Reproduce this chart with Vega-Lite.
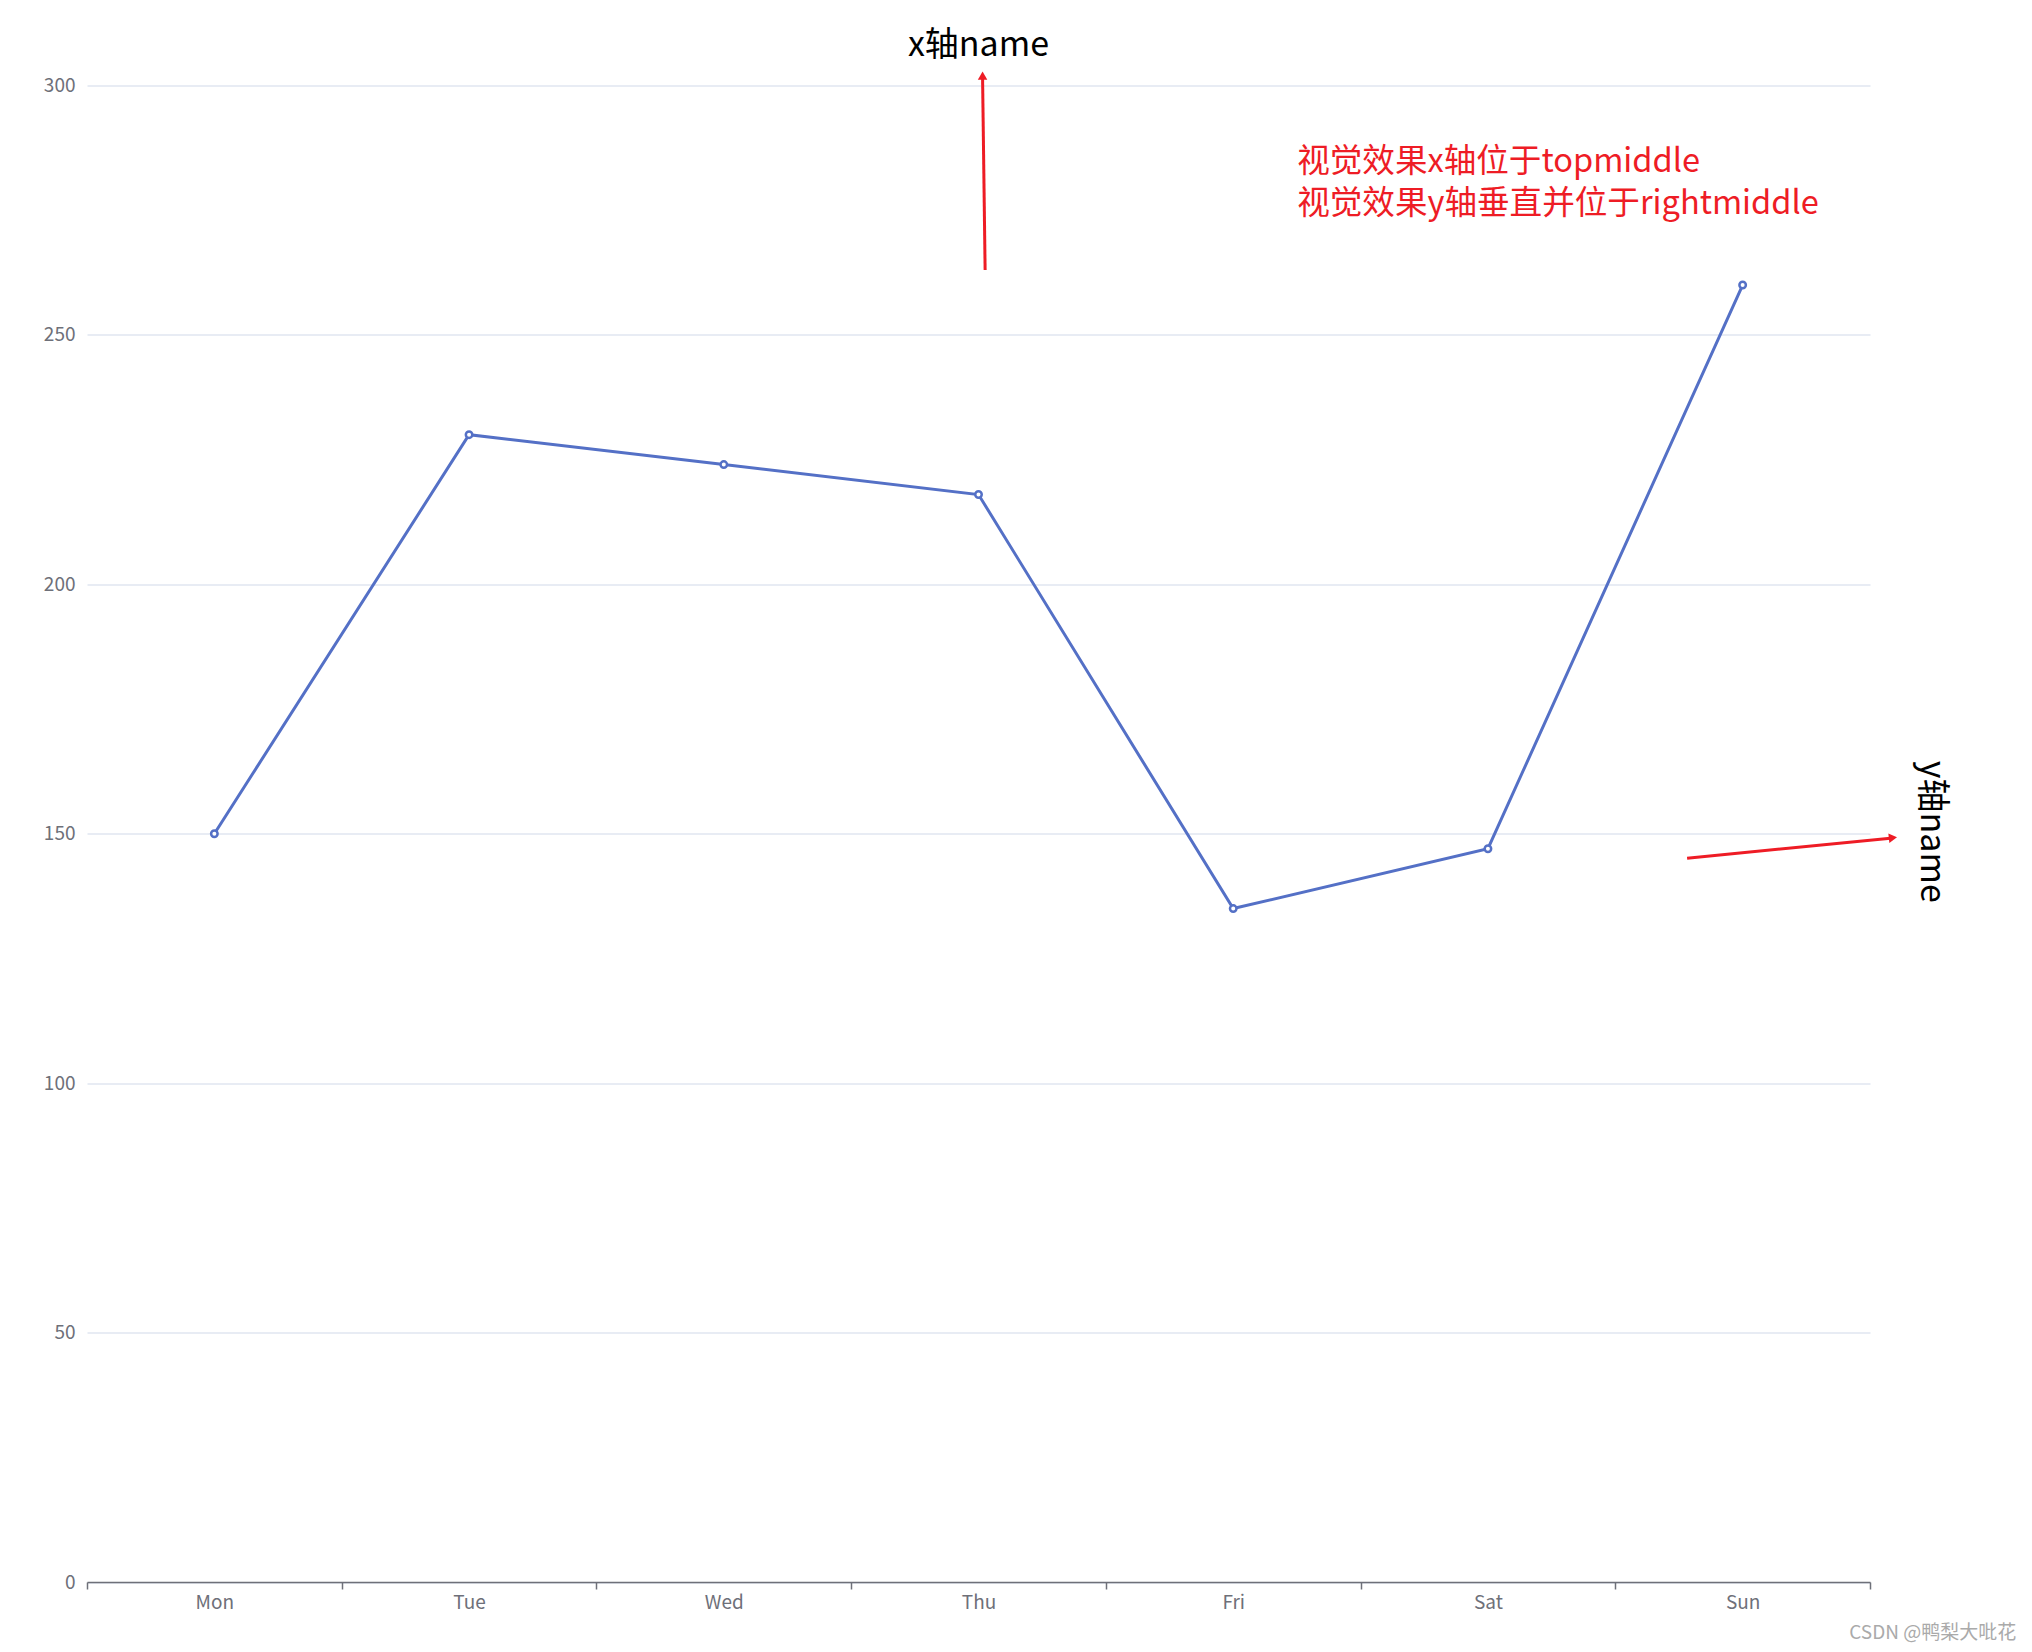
{
  "$schema": "https://vega.github.io/schema/vega-lite/v6.json",
  "autosize": {"type": "none"},
  "padding": {"left": 87, "top": 85.5, "right": 162, "bottom": 70},
  "width": 1783,
  "height": 1496.5,
  "background": "#ffffff",
  "config": {
    "view": {"stroke": null},
    "font": "Noto Sans CJK SC"
  },
  "datasets": {
    "series": [
      {"day": "Mon", "value": 150},
      {"day": "Tue", "value": 230},
      {"day": "Wed", "value": 224},
      {"day": "Thu", "value": 218},
      {"day": "Fri", "value": 135},
      {"day": "Sat", "value": 147},
      {"day": "Sun", "value": 260}
    ],
    "arrowUp": [{"x1": 3.526, "y1": 263.0, "x2": 3.516, "y2": 301.5}],
    "arrowUpHead": [{"x": 3.516, "y": 302.0}],
    "arrowRight": [{"x1": 6.282, "y1": 145.1, "x2": 7.08, "y2": 149.1}],
    "arrowRightHead": [{"x": 7.09, "y": 149.2}],
    "xname": [{"x": 3.50, "y": 308.0, "label": "x轴name"}],
    "yname": [{"x": 7.24, "y": 150.4, "label": "y轴name"}],
    "note": [
      {"x": 4.751, "y": 284.7, "label": "视觉效果x轴位于topmiddle"},
      {"x": 4.751, "y": 276.2, "label": "视觉效果y轴垂直并位于rightmiddle"}
    ],
    "mark": [{"x": 7.574, "y": -10.2, "label": "CSDN @鸭梨大吡花"}]
  },
  "resolve": {"scale": {"x": "independent"}, "axis": {"x": "independent"}},
  "layer": [
    {
      "data": {"name": "series"},
      "mark": {"type": "line", "color": "#5470c6", "strokeWidth": 3},
      "encoding": {
        "x": {
          "field": "day", "type": "nominal", "bandPosition": 0.5,
          "sort": ["Mon", "Tue", "Wed", "Thu", "Fri", "Sat", "Sun"],
          "scale": {"type": "band", "paddingInner": 0, "paddingOuter": 0},
          "axis": {
            "title": null, "labelAngle": 0, "grid": false,
            "domainColor": "#6E7079", "domainWidth": 1.5,
            "tickColor": "#6E7079", "tickWidth": 1.5, "tickSize": 7, "tickBand": "extent",
            "labelColor": "#6E7079", "labelFontSize": 19, "labelPadding": 4,
            "labelFont": "Noto Sans CJK SC"
          }
        },
        "y": {
          "field": "value", "type": "quantitative",
          "scale": {"domain": [0, 300], "nice": false, "zero": true},
          "axis": {
            "title": null, "values": [0, 50, 100, 150, 200, 250, 300],
            "domain": false, "ticks": false, "grid": true,
            "gridColor": "#E0E6F1", "gridWidth": 1.5,
            "labelColor": "#6E7079", "labelFontSize": 19, "labelPadding": 12,
            "labelFont": "Noto Sans CJK SC"
          }
        }
      }
    },
    {
      "data": {"name": "series"},
      "mark": {"type": "point", "shape": "circle", "filled": false, "fill": "#ffffff", "fillOpacity": 1, "stroke": "#5470c6", "strokeWidth": 2.5, "size": 42, "opacity": 1},
      "encoding": {
        "x": {
          "field": "day", "type": "nominal", "bandPosition": 0.5,
          "sort": ["Mon", "Tue", "Wed", "Thu", "Fri", "Sat", "Sun"],
          "scale": {"type": "band", "paddingInner": 0, "paddingOuter": 0},
          "axis": null
        },
        "y": {"field": "value", "type": "quantitative"}
      }
    },
    {
      "data": {"name": "arrowUp"},
      "mark": {"type": "rule", "color": "#ee1c25", "strokeWidth": 3},
      "encoding": {
        "x": {"field": "x1", "type": "quantitative", "scale": {"domain": [0, 7], "nice": false, "zero": false}, "axis": null},
        "x2": {"field": "x2"},
        "y": {"field": "y1", "type": "quantitative"},
        "y2": {"field": "y2"}
      }
    },
    {
      "data": {"name": "arrowUpHead"},
      "mark": {"type": "point", "shape": "triangle-up", "filled": true, "color": "#ee1c25", "opacity": 1, "size": 90, "angle": 0},
      "encoding": {
        "x": {"field": "x", "type": "quantitative", "scale": {"domain": [0, 7], "nice": false, "zero": false}, "axis": null},
        "y": {"field": "y", "type": "quantitative"}
      }
    },
    {
      "data": {"name": "arrowRight"},
      "mark": {"type": "rule", "color": "#ee1c25", "strokeWidth": 3},
      "encoding": {
        "x": {"field": "x1", "type": "quantitative", "scale": {"domain": [0, 7], "nice": false, "zero": false}, "axis": null},
        "x2": {"field": "x2"},
        "y": {"field": "y1", "type": "quantitative"},
        "y2": {"field": "y2"}
      }
    },
    {
      "data": {"name": "arrowRightHead"},
      "mark": {"type": "point", "shape": "triangle-up", "filled": true, "color": "#ee1c25", "opacity": 1, "size": 90, "angle": 84},
      "encoding": {
        "x": {"field": "x", "type": "quantitative", "scale": {"domain": [0, 7], "nice": false, "zero": false}, "axis": null},
        "y": {"field": "y", "type": "quantitative"}
      }
    },
    {
      "data": {"name": "xname"},
      "mark": {"type": "text", "color": "#000000", "fontSize": 34, "align": "center", "baseline": "middle", "font": "Noto Sans CJK SC"},
      "encoding": {
        "x": {"field": "x", "type": "quantitative", "scale": {"domain": [0, 7], "nice": false, "zero": false}, "axis": null},
        "y": {"field": "y", "type": "quantitative"},
        "text": {"field": "label"}
      }
    },
    {
      "data": {"name": "yname"},
      "mark": {"type": "text", "color": "#000000", "fontSize": 34, "align": "center", "baseline": "middle", "angle": 90, "font": "Noto Sans CJK SC"},
      "encoding": {
        "x": {"field": "x", "type": "quantitative", "scale": {"domain": [0, 7], "nice": false, "zero": false}, "axis": null},
        "y": {"field": "y", "type": "quantitative"},
        "text": {"field": "label"}
      }
    },
    {
      "data": {"name": "note"},
      "mark": {"type": "text", "color": "#ee1c25", "fontSize": 32.6, "align": "left", "baseline": "middle", "font": "Noto Sans CJK SC"},
      "encoding": {
        "x": {"field": "x", "type": "quantitative", "scale": {"domain": [0, 7], "nice": false, "zero": false}, "axis": null},
        "y": {"field": "y", "type": "quantitative"},
        "text": {"field": "label"}
      }
    },
    {
      "data": {"name": "mark"},
      "mark": {"type": "text", "color": "#aaaaaa", "fontSize": 19, "align": "right", "baseline": "middle", "font": "Noto Sans CJK SC"},
      "encoding": {
        "x": {"field": "x", "type": "quantitative", "scale": {"domain": [0, 7], "nice": false, "zero": false}, "axis": null},
        "y": {"field": "y", "type": "quantitative"},
        "text": {"field": "label"}
      }
    }
  ]
}
